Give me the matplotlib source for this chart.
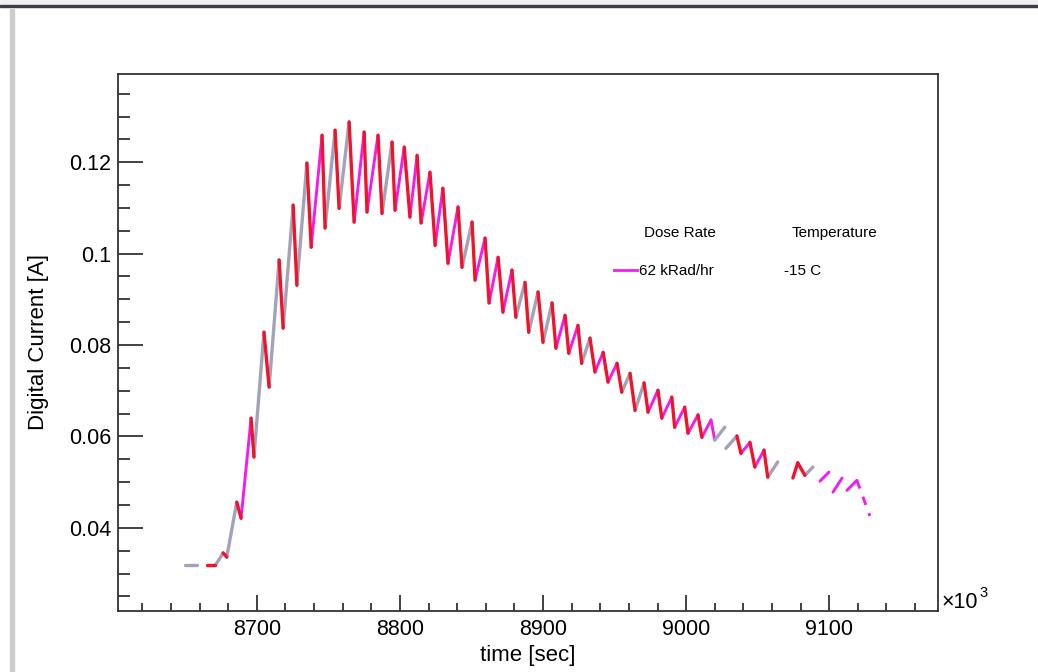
import numpy as np
import matplotlib.pyplot as plt
from matplotlib.patches import Rectangle
from matplotlib.ticker import MultipleLocator, FuncFormatter

plt.rcParams['font.family'] = ['Liberation Sans', 'DejaVu Sans']

nan = np.nan

# time in units of 10^3 sec, digital current in A
time_k = [8650, 8658, nan, 8665, 8671, 8676.5, 8679, 8686, 8689, 8696,
          8698, 8705, 8708.6, 8715.6, 8718.4, 8725.4, 8728, 8735, 8738, 8745.6,
          8747.7, 8754.7, 8757.5, 8764.5, 8768, 8775, 8777, 8784.7, 8787.5, 8794.5,
          8796.6, 8803, 8807, 8812, 8814.8, 8821, 8824.6, 8830, 8833.6, 8840.6,
          8843.4, 8850.4, 8852.5, 8859.5, 8862.3, 8868.6, 8872, 8878.3, 8881, 8887.4,
          8890, 8896.5, 8900, 8906.3, 8909, 8915.4, 8918, 8924.4, 8927, 8932.8,
          8936.3, 8942, 8945.4, 8951.7, 8955, 8960.8, 8964.3, 8970.6, 8973.4, 8980.3,
          8983, 8990, 8992, 8999, 9001.3, 9008.3, 9011, 9017.4, 9020, 9027,
          nan, 9027.8, 9035.5, 9038.3, 9044.6, 9048, 9054.4, 9057, 9064, nan,
          9074.6, 9078, 9083, 9088.6, nan, 9093.5, 9099.8, nan, 9102.6, 9109,
          nan, 9112.4, 9119.3, 9128.4]

current = [0.0318, 0.0318, nan, 0.0318, 0.0318, 0.0345, 0.0336, 0.0456, 0.0421, 0.0640,
           0.0555, 0.0828, 0.0708, 0.0986, 0.0837, 0.1106, 0.0931, 0.1198, 0.1014, 0.1259,
           0.1056, 0.1270, 0.1099, 0.1288, 0.1069, 0.1266, 0.1091, 0.1259, 0.1088, 0.1244,
           0.1095, 0.1233, 0.1080, 0.1215, 0.1067, 0.1178, 0.1018, 0.1143, 0.0979, 0.1102,
           0.0970, 0.1069, 0.0942, 0.1034, 0.0892, 0.0992, 0.0872, 0.0964, 0.0861, 0.0937,
           0.0828, 0.0916, 0.0806, 0.0892, 0.0793, 0.0865, 0.0782, 0.0843, 0.0760, 0.0815,
           0.0741, 0.0784, 0.0719, 0.0760, 0.0697, 0.0738, 0.0657, 0.0717, 0.0653, 0.0701,
           0.0640, 0.0686, 0.0620, 0.0664, 0.0607, 0.0647, 0.0598, 0.0636, 0.0592, 0.0620,
           nan, 0.0574, 0.0601, 0.0563, 0.0587, 0.0533, 0.0570, 0.0511, 0.0544, nan,
           0.0509, 0.0542, 0.0515, 0.0533, nan, 0.0502, 0.0522, nan, 0.0478, 0.0509,
           nan, 0.0482, 0.0504, 0.0426]

# which graph each piece between two points belongs to ('.' = no data)
source = ['G', '.', '.', 'R', 'G', 'R', 'G', 'R', 'M', 'R',
          'G', 'R', 'G', 'R', 'G', 'R', 'G', 'R', 'M', 'R',
          'G', 'R', 'G', 'R', 'M', 'R', 'M', 'R', 'G', 'R',
          'M', 'R', 'M', 'R', 'M', 'R', 'M', 'R', 'M', 'R',
          'G', 'R', 'M', 'R', 'M', 'R', 'M', 'R', 'G', 'R',
          'G', 'R', 'G', 'R', 'M', 'R', 'M', 'R', 'G', 'R',
          'M', 'R', 'M', 'R', 'G', 'R', 'G', 'R', 'M', 'R',
          'M', 'R', 'M', 'R', 'M', 'R', 'M', 'M', 'G', '.',
          '.', 'G', 'R', 'M', 'R', 'M', 'R', 'G', '.', '.',
          'R', 'R', 'G', '.', '.', 'M', '.', '.', 'M', '.',
          '.', 'M', 'm']

legend_dose = '62 kRad/hr'
legend_temp = '-15 C'

colours = {'R': '#f2132b', 'M': '#f21cf0', 'G': '#a2a2b8', 'm': '#f21cf0'}
widths = {'R': 2.4, 'M': 2.1, 'G': 2.4, 'm': 2.1}

fig = plt.figure(figsize=(10.38, 6.72), dpi=100)

# window decoration of the screenshot
fig.patches.append(Rectangle((0, 1 - 5 / 672), 1, 5 / 672, transform=fig.transFigure,
                             color='#f0f0f0', zorder=0))
fig.patches.append(Rectangle((0, 1 - 7 / 672), 1, 2 / 672, transform=fig.transFigure,
                             color='#3c3c4a', zorder=0))
fig.patches.append(Rectangle((10 / 1038, 0), 4 / 1038, 1 - 9 / 672, transform=fig.transFigure,
                             color='#cdcdcd', zorder=0))

ax = fig.add_axes([118 / 1038, 61 / 672, 820 / 1038, 537 / 672])

for i, s in enumerate(source):
    if s == '.':
        continue
    ls = (0, (3, 3)) if s == 'm' else '-'
    ax.plot(time_k[i:i + 2], current[i:i + 2], color=colours[s], lw=widths[s],
            ls=ls, solid_capstyle='round', zorder=3 if s == 'R' else 2)

ax.set_xlim(8603, 9176)
ax.set_ylim(0.0218, 0.1393)

ax.xaxis.set_major_locator(MultipleLocator(100))
ax.xaxis.set_minor_locator(MultipleLocator(20))
ax.yaxis.set_major_locator(MultipleLocator(0.02))
ax.yaxis.set_minor_locator(MultipleLocator(0.005))
ax.xaxis.set_major_formatter(FuncFormatter(lambda v, p: f'{v:g}'))
ax.yaxis.set_major_formatter(FuncFormatter(lambda v, p: f'{v:g}'))

ax.tick_params(axis='both', which='both', direction='in', top=False, right=False,
               labelsize=15.5, color='#333333', width=1.3)
ax.tick_params(axis='y', which='major', length=18, pad=5)
ax.tick_params(axis='y', which='minor', length=8.5)
ax.tick_params(axis='x', which='major', length=11.5, pad=6)
ax.tick_params(axis='x', which='minor', length=5.8)
for sp in ax.spines.values():
    sp.set_color('#333333')
    sp.set_linewidth(1.3)

ax.set_xlabel('time [sec]', fontsize=16, labelpad=3)
ax.set_ylabel('Digital Current [A]', fontsize=16, labelpad=14)

fig.text(942 / 1038, 1 - 608 / 672, '\u00d710', fontsize=15.5, ha='left', va='baseline')
fig.text(979 / 1038, 1 - 597 / 672, '3', fontsize=10.5, ha='left', va='baseline')

# legend block
fig.text(680 / 1038, 1 - 233 / 672, 'Dose Rate', fontsize=11, ha='center', va='center')
fig.text(834 / 1038, 1 - 233 / 672, 'Temperature', fontsize=11, ha='center', va='center')
fig.text(784 / 1038, 1 - 271 / 672, legend_temp, fontsize=11, ha='left', va='center')
h, = ax.plot([], [], color=colours['M'], lw=2.0)
ax.legend([h], [legend_dose], loc='center left', frameon=False, fontsize=11,
          bbox_to_anchor=(614 / 1038, 1 - 271 / 672), bbox_transform=fig.transFigure,
          borderpad=0, borderaxespad=0, handlelength=1.5, handletextpad=0.15)

fig.savefig('out.png', dpi=100)
